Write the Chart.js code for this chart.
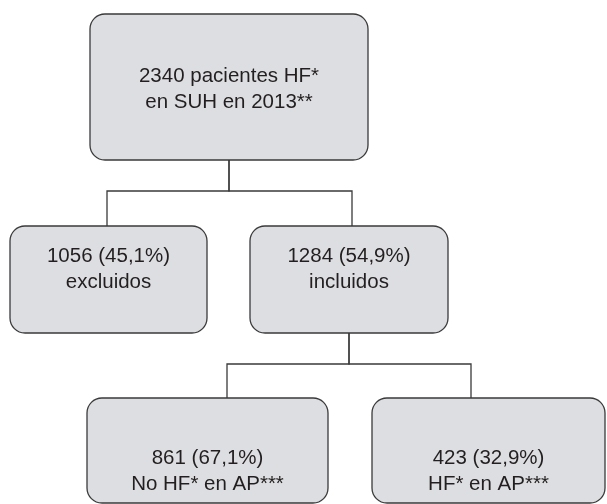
<!DOCTYPE html>
<html>
<head>
<meta charset="utf-8">
<script src="https://cdn.jsdelivr.net/npm/chart.js@4.4.1/dist/chart.umd.min.js"></script>
<style>
  html, body { margin: 0; padding: 0; background: #fff; }
  #wrap { width: 607px; height: 504px; position: relative; }
</style>
</head>
<body>
<div id="wrap"><canvas id="chart"></canvas></div>
<script>
// flowchart nodes (text + box extents in chart units, y grows downwards)
var nodeLines = [
    ["2340 pacientes HF*", "en SUH en 2013**"],
    ["1056 (45,1%)", "excluidos"],
    ["1284 (54,9%)", "incluidos"],
    ["861 (67,1%)", "No HF* en AP***"],
    ["423 (32,9%)", "HF* en AP***"]
];
var nodeLeft   = [90, 10, 250, 87, 372];
var nodeRight  = [368, 207, 448, 328, 605];
var nodeTop    = [14, 226, 226, 398, 398];
var nodeBottom = [160, 333, 333, 503, 503];
var nodeTextY  = [89, 269, 269, 471, 471];

// connectors: parent -> children, with the x where each line meets a child
var linkParent  = [0, 0, 2, 2];
var linkChild   = [1, 2, 3, 4];
var linkParentX = [229, 229, 349, 349];
var linkChildX  = [107, 352, 227, 471];
var linkJoinY   = [191, 191, 364, 364];

var fillColor = '#dddee1';
var lineColor = '#3a3a3a';
var textColor = '#231f20';

var flowPlugin = {
    id: 'flow',
    afterDatasetsDraw: function(chart) {
        var ctx = chart.ctx;
        var sx = chart.scales.x, sy = chart.scales.y;
        ctx.save();
        ctx.strokeStyle = lineColor;
        ctx.lineWidth = 1.3;
        // connector lines
        for (var i = 0; i < linkParent.length; i++) {
            var p = linkParent[i], c = linkChild[i];
            var px = sx.getPixelForValue(linkParentX[i]);
            var cx = sx.getPixelForValue(linkChildX[i]);
            var jy = sy.getPixelForValue(linkJoinY[i]);
            ctx.beginPath();
            ctx.moveTo(px, sy.getPixelForValue(nodeBottom[p]));
            ctx.lineTo(px, jy);
            ctx.lineTo(cx, jy);
            ctx.lineTo(cx, sy.getPixelForValue(nodeTop[c]));
            ctx.stroke();
        }
        // boxes
        for (var n = 0; n < nodeLines.length; n++) {
            var x0 = sx.getPixelForValue(nodeLeft[n]);
            var x1 = sx.getPixelForValue(nodeRight[n]);
            var y0 = sy.getPixelForValue(nodeTop[n]);
            var y1 = sy.getPixelForValue(nodeBottom[n]);
            ctx.beginPath();
            ctx.roundRect(x0, y0, x1 - x0, y1 - y0, 15);
            ctx.fillStyle = fillColor;
            ctx.fill();
            ctx.stroke();
            ctx.fillStyle = textColor;
            ctx.font = '20.5px "Liberation Sans", Arial, sans-serif';
            ctx.textAlign = 'center';
            ctx.textBaseline = 'middle';
            var tx = (x0 + x1) / 2;
            var ty = sy.getPixelForValue(nodeTextY[n]);
            var lh = 26;
            var lines = nodeLines[n];
            for (var k = 0; k < lines.length; k++) {
                ctx.fillText(lines[k], tx, ty + (k - (lines.length - 1) / 2) * lh);
            }
        }
        ctx.restore();
    }
};

var ctx = document.getElementById('chart').getContext('2d');
var chart = new Chart(ctx, {
    type: 'scatter',
    data: {
        datasets: [{
            data: nodeLines.map(function(l, i) {
                return { x: (nodeLeft[i] + nodeRight[i]) / 2, y: (nodeTop[i] + nodeBottom[i]) / 2 };
            }),
            pointRadius: 0
        }]
    },
    options: {
        responsive: true,
        maintainAspectRatio: false,
        animation: false,
        layout: { padding: 0 },
        plugins: { legend: { display: false }, tooltip: { enabled: false } },
        scales: {
            x: { type: 'linear', min: 0, max: 607, display: false },
            y: { type: 'linear', min: 0, max: 504, reverse: true, display: false }
        }
    },
    plugins: [flowPlugin]
});
</script>
</body>
</html>
